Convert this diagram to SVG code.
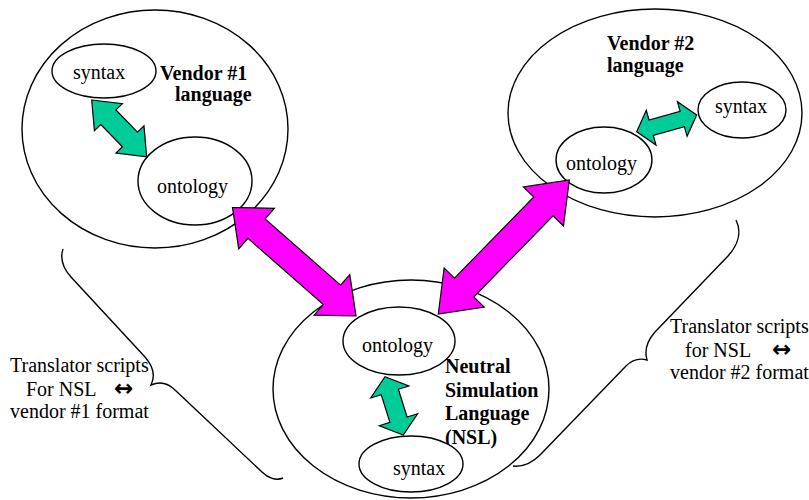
<svg xmlns="http://www.w3.org/2000/svg" width="809" height="500" viewBox="0 0 809 500">
  <style>
    .bg { fill: #ffffff; }
    .oval { fill: none; stroke: #000000; stroke-width: 1.4; }
    .inner { fill: #ffffff; stroke: #000000; stroke-width: 1.4; }
    .lbl { font-family: "Liberation Serif", "Times New Roman", serif; font-size: 20px; fill: #000000; }
    .bold { font-weight: bold; }
    .sym { font-family: "DejaVu Sans", sans-serif; font-size: 23px; font-weight: bold; }
    .brace { fill: none; stroke: #000000; stroke-width: 1.4; }
    .link { stroke: #000000; stroke-width: 1.2; stroke-linejoin: miter; }
    .map { fill: #ff00ff; }
    .local { fill: #00cc99; }
  </style>

  <rect class="bg" x="0" y="0" width="809" height="500"/>

  <!-- Vendor #1 language -->
  <g id="vendor1">
    <ellipse class="oval" cx="155" cy="129" rx="133" ry="119"/>
    <text class="lbl bold" x="160" y="80">Vendor #1</text>
    <text class="lbl bold" x="175" y="101">language</text>
  </g>
  <g id="vendor1-syntax">
    <ellipse class="inner" cx="104" cy="71" rx="52" ry="27"/>
    <text class="lbl" x="73" y="79">syntax</text>
  </g>
  <g id="vendor1-ontology">
    <ellipse class="inner" cx="195" cy="181" rx="57" ry="44"/>
    <text class="lbl" x="157" y="193">ontology</text>
  </g>

  <!-- Vendor #2 language -->
  <g id="vendor2">
    <ellipse class="oval" cx="655" cy="113" rx="147" ry="104"/>
    <text class="lbl bold" x="607" y="50">Vendor #2</text>
    <text class="lbl bold" x="607" y="72">language</text>
  </g>
  <g id="vendor2-syntax">
    <ellipse class="inner" cx="742" cy="110" rx="44" ry="28"/>
    <text class="lbl" x="715" y="113">syntax</text>
  </g>
  <g id="vendor2-ontology">
    <ellipse class="inner" cx="604" cy="160" rx="48" ry="33"/>
    <text class="lbl" x="566" y="170">ontology</text>
  </g>

  <!-- Neutral Simulation Language -->
  <g id="nsl">
    <ellipse class="oval" cx="411" cy="389" rx="138" ry="109"/>
    <text class="lbl bold" x="445" y="373">Neutral</text>
    <text class="lbl bold" x="445" y="397">Simulation</text>
    <text class="lbl bold" x="445" y="420">Language</text>
    <text class="lbl bold" x="445" y="444">(NSL)</text>
  </g>
  <g id="nsl-ontology">
    <ellipse class="inner" cx="399" cy="341" rx="56" ry="34"/>
    <text class="lbl" x="362" y="352">ontology</text>
  </g>
  <g id="nsl-syntax">
    <ellipse class="inner" cx="411" cy="464" rx="52" ry="28"/>
    <text class="lbl" x="393" y="475">syntax</text>
  </g>

  <!-- Translator script annotations with braces -->
  <g id="translator1">
    <path class="brace" d="M63,249 C60,258 63,268 71,277 L145,357 C152,365 156,375 151,385 C160,381 168,383 175,390 L262,472 C268,478 276,481 283,478"/>
    <text class="lbl" x="10" y="372">Translator scripts</text>
    <text class="lbl" y="396"><tspan x="26">For NSL</tspan><tspan class="sym" x="114">↔</tspan></text>
    <text class="lbl" x="10" y="418">vendor #1 format</text>
  </g>
  <g id="translator2">
    <path class="brace" d="M736,220 C742,232 738,245 728,256 L655,332 C648,340 644,350 647,360 C640,358 632,360 626,366 L540,455 C532,463 522,467 513,466"/>
    <text class="lbl" x="670" y="333">Translator scripts</text>
    <text class="lbl" y="357"><tspan x="685">for NSL</tspan><tspan class="sym" x="772">↔</tspan></text>
    <text class="lbl" x="670" y="379">vendor #2 format</text>
  </g>

  <!-- Two-way block arrows, drawn along local x from one end to the other -->
  <g id="connectors">
    <polygon class="link map" transform="translate(232.5,207.5) rotate(41.3)"
      points="0,0 32,-27 32,-13 132.4,-13 132.4,-27 164.4,0 132.4,27 132.4,13 32,13 32,27"/>
    <polygon class="link map" transform="translate(438.3,314) rotate(-45.65)"
      points="0,0 37,-28 37,-13.5 150.4,-13.5 150.4,-28 187.4,0 150.4,28 150.4,13.5 37,13.5 37,28"/>
    <polygon class="link local" transform="translate(91.7,100) rotate(45.9)"
      points="0,0 24,-19.5 24,-10.5 55,-10.5 55,-19.5 79,0 55,19.5 55,10.5 24,10.5 24,19.5"/>
    <polygon class="link local" transform="translate(636.7,131.7) rotate(-15.6)"
      points="0,0 15,-18 15,-8 47.3,-8 47.3,-18 62.3,0 47.3,18 47.3,8 15,8 15,18"/>
    <polygon class="link local" transform="translate(385,376.7) rotate(72.6)"
      points="0,0 16,-20 16,-9 45.1,-9 45.1,-20 61.1,0 45.1,20 45.1,9 16,9 16,20"/>
  </g>
</svg>
